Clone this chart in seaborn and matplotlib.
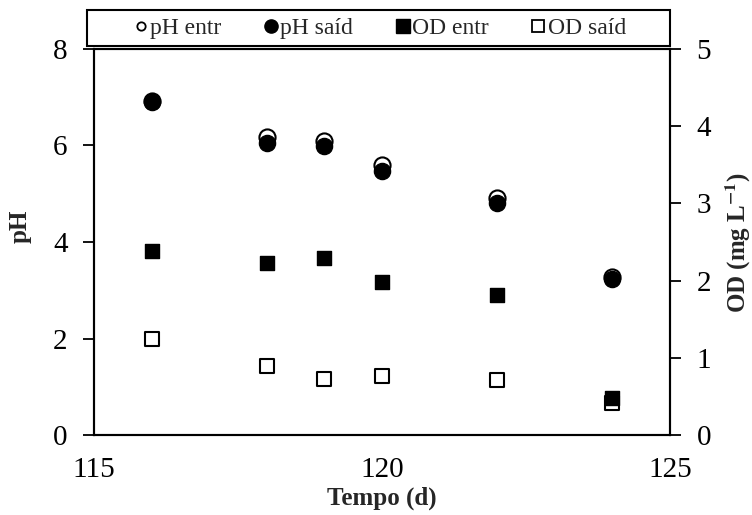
import pandas as pd
import matplotlib.pyplot as plt
import seaborn as sns
from matplotlib.lines import Line2D
from matplotlib.patches import Rectangle

# dados
tempo = [116, 118, 119, 120, 122, 124]
ph_entr = [6.92, 6.17, 6.10, 5.59, 4.91, 3.28]
ph_said = [6.90, 6.06, 5.98, 5.48, 4.81, 3.24]
od_entr = [2.39, 2.23, 2.30, 1.98, 1.82, 0.48]
od_said = [1.25, 0.89, 0.73, 0.76, 0.71, 0.42]

df = pd.DataFrame({'tempo': tempo, 'ph_entr': ph_entr, 'ph_said': ph_said,
                   'od_entr': od_entr, 'od_said': od_said})

sns.set_style('white')
plt.rcParams['font.family'] = ['Liberation Serif', 'DejaVu Serif']
plt.rcParams['mathtext.fontset'] = 'stix'

fig, ax = plt.subplots(figsize=(7.52, 5.15), dpi=100)
fig.subplots_adjust(left=0.125, right=0.891, top=0.905, bottom=0.155)
ax2 = ax.twinx()

sns.scatterplot(data=df, x='tempo', y='ph_entr', ax=ax, marker='o', s=135,
                color='white', edgecolor='black', linewidth=1.5, zorder=3, legend=False)
sns.scatterplot(data=df, x='tempo', y='ph_said', ax=ax, marker='o', s=135,
                color='black', edgecolor='black', linewidth=1, zorder=4, legend=False)
sns.scatterplot(data=df, x='tempo', y='od_said', ax=ax2, marker='s', s=110,
                color='white', edgecolor='black', linewidth=1.5, zorder=3, legend=False)
sns.scatterplot(data=df, x='tempo', y='od_entr', ax=ax2, marker='s', s=110,
                color='black', edgecolor='black', linewidth=1, zorder=4, legend=False)

ax.set_xlim(115, 125)
ax.set_ylim(0, 8)
ax2.set_ylim(0, 5)
ax.set_xticks([115, 120, 125])
ax.set_yticks([0, 2, 4, 6, 8])
ax2.set_yticks([0, 1, 2, 3, 4, 5])

for a in (ax, ax2):
    for sp in a.spines.values():
        sp.set_color('black')
        sp.set_linewidth(1.5)
    a.tick_params(direction='out', length=8, width=1.3, labelsize=21,
                  colors='black', pad=11)
ax.tick_params(axis='x', pad=8)

ax.set_xlabel('Tempo (d)', fontsize=18, fontweight='bold', labelpad=2)
ax.set_ylabel('pH', fontsize=18, fontweight='bold')
ax.yaxis.set_label_coords(-0.108, 0.54)
ax2.set_ylabel(r'OD (mg L$^{\mathbf{-1}}$)', fontsize=18, fontweight='bold', labelpad=9)

# legenda em caixa acima do grafico
fig.patches.append(Rectangle((0.1157, 0.9107), 0.7753, 0.0699, transform=fig.transFigure,
                             fill=False, edgecolor='black', linewidth=1.5))
handles = [
    Line2D([], [], ls='none', marker='o', ms=6, mfc='white', mec='black', mew=1.3),
    Line2D([], [], ls='none', marker='o', ms=9.5, mfc='black', mec='black'),
    Line2D([], [], ls='none', marker='s', ms=9.5, mfc='black', mec='black'),
    Line2D([], [], ls='none', marker='s', ms=8.5, mfc='white', mec='black', mew=1.3),
]
labels = ['pH entr', 'pH saíd', 'OD entr', 'OD saíd']
ax.legend(handles, labels, ncol=4, loc='center', bbox_to_anchor=(0.505, 0.9456),
          bbox_transform=fig.transFigure, fontsize=17, frameon=False,
          handletextpad=0.1, handlelength=0.6, columnspacing=1.8)

fig.savefig('out.png', dpi=100)
